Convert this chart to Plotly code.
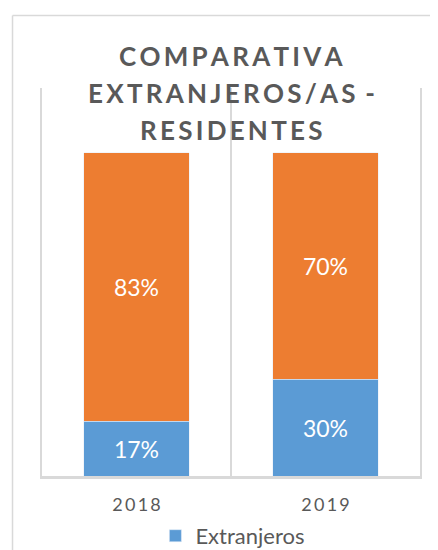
import plotly.graph_objects as go

years = ["2018", "2019"]
year_labels = ["2\u20090\u20091\u20098", "2\u20090\u20091\u20099"]
extranjeros = [0.17, 0.30]
residentes = [0.83, 0.70]
title_lines = ["C\u2009O\u2009M\u2009P\u2009A\u2009R\u2009A\u2009T\u2009I\u2009V\u2009A",
               "E\u2009X\u2009T\u2009R\u2009A\u2009N\u2009J\u2009E\u2009R\u2009O\u2009S\u2009/\u2009A\u2009S\u2009 -",
               "R\u2009E\u2009S\u2009I\u2009D\u2009E\u2009N\u2009T\u2009E\u2009S"]

GRAY = "#595959"
LINE = "#d9d9d9"

fig = go.Figure([
    go.Bar(x=years, y=extranjeros, name="Extranjeros", marker_color="#5b9bd5",
           texttemplate="%{y:.0%}", textposition="inside", insidetextanchor="middle",
           textfont=dict(color="white", size=23, family="Lato"), textangle=0),
    go.Bar(x=years, y=residentes, name="Residentes", marker_color="#ed7d31",
           texttemplate="%{y:.0%}", textposition="inside", insidetextanchor="middle",
           textfont=dict(color="white", size=23, family="Lato"), textangle=0,
           showlegend=False),
])

# title, one annotation per line
for i, t in enumerate(title_lines):
    fig.add_annotation(text="<b>" + t + "</b>", xref="paper", yref="paper",
                       x=0.5, y=1.083 - i * 0.0954, xanchor="center", yanchor="middle",
                       showarrow=False, font=dict(family="Lato", size=26, color=GRAY))

# outer chart border: only top and left edges are in view
fig.add_shape(type="line", xref="paper", yref="paper", x0=-0.078, x1=1.5, y0=1.187, y1=1.187,
              line=dict(color=LINE, width=1.5), layer="below")
fig.add_shape(type="line", xref="paper", yref="paper", x0=-0.078, x1=-0.078, y0=-0.5, y1=1.187,
              line=dict(color=LINE, width=1.5), layer="below")

# page body has an 8px margin, so the figure is 8px smaller and shifted
fig.update_layout(
    barmode="stack", bargap=0.44,
    width=430, height=542,
    margin=dict(l=34, r=18, t=80, b=74, autoexpand=False),
    paper_bgcolor="white", plot_bgcolor="white",
    font=dict(family="Lato", color=GRAY),
    legend=dict(orientation="h", x=0.505, xanchor="center",
                yref="container", y=0.026, yanchor="middle",
                font=dict(size=22, color=GRAY)),
    xaxis=dict(tickmode="array", tickvals=years, ticktext=year_labels,
               tickson="boundaries", showgrid=True, gridcolor=LINE, gridwidth=2,
               showline=True, linecolor=LINE, linewidth=2.5, automargin=False,
               ticks="", ticklabelstandoff=11, tickfont=dict(size=18, color=GRAY)),
    yaxis=dict(range=[0, 1.2], showgrid=False, showticklabels=False, zeroline=False,
               showline=True, mirror=True, linecolor=LINE, linewidth=2, automargin=False),
)

fig.write_html("out.html")
